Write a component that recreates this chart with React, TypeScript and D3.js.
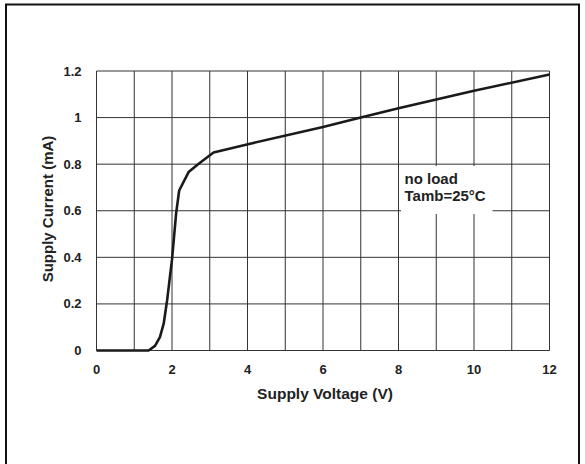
import React from "react";
import * as d3 from "d3";

const voltage = [0, 1.38, 1.55, 1.68, 1.78, 1.87, 2.0, 2.11, 2.19, 2.44, 2.69, 3.1, 4.04, 6.0, 7.0, 8.0, 10.0, 12.0];
const current = [0, 0, 0.02, 0.057, 0.115, 0.215, 0.39, 0.59, 0.687, 0.766, 0.8, 0.85, 0.887, 0.96, 1.0, 1.04, 1.115, 1.185];
const xTicks = [0, 2, 4, 6, 8, 10, 12];
const yTicks = [0, 0.2, 0.4, 0.6, 0.8, 1, 1.2];
const xGrid = d3.range(0, 13, 1);
const annotation = ["no load", "Tamb=25°C"];

export default function App() {
  const W = 585, H = 464;
  const left = 96.5, right = 549.5, top = 71, bottom = 350.5;
  const x = d3.scaleLinear().domain([0, 12]).range([left, right]);
  const y = d3.scaleLinear().domain([0, 1.2]).range([bottom, top]);
  const pts = voltage.map((v, i) => [v, current[i]] as [number, number]);
  const line = d3.line<[number, number]>().x(d => x(d[0])).y(d => y(d[1]));
  const font = "'Liberation Sans', Arial, sans-serif";
  const grid = "#333";
  return (
    <svg width={W} height={H} style={{ position: "absolute", left: 0, top: 0, background: "#fff" }}>
      <rect x={6} y={4.5} width={573} height={470} fill="#fff" stroke="#111" strokeWidth={2} />
      {xGrid.map(v => (
        <line key={"vx" + v} x1={x(v)} x2={x(v)} y1={top} y2={bottom} stroke={grid} strokeWidth={1} />
      ))}
      {yTicks.map(v => (
        <line key={"hy" + v} x1={left} x2={right} y1={y(v)} y2={y(v)} stroke={grid} strokeWidth={1} />
      ))}
      <rect x={401} y={166} width={91.5} height={48} fill="#fff" />
      <path d={line(pts) || ""} fill="none" stroke="#1a1a1a" strokeWidth={2.6} strokeLinejoin="round" />
      {annotation.map((t, i) => (
        <text key={t} x={404.5} y={183.5 + i * 17.5} fontFamily={font} fontWeight="bold" fontSize={15} fill="#222">{t}</text>
      ))}
      {xTicks.map(v => (
        <text key={"xt" + v} x={x(v)} y={374} textAnchor="middle" fontFamily={font} fontWeight="bold" fontSize={13} fill="#222">{v}</text>
      ))}
      {yTicks.map(v => (
        <text key={"yt" + v} x={81.5} y={y(v) + 4.5} textAnchor="end" fontFamily={font} fontWeight="bold" fontSize={13} fill="#222">{v}</text>
      ))}
      <text x={325} y={399} textAnchor="middle" fontFamily={font} fontWeight="bold" fontSize={15.5} fill="#222">Supply Voltage (V)</text>
      <text transform={`translate(52.5, 209) rotate(-90)`} textAnchor="middle" fontFamily={font} fontWeight="bold" fontSize={15} fill="#222">Supply Current (mA)</text>
    </svg>
  );
}
